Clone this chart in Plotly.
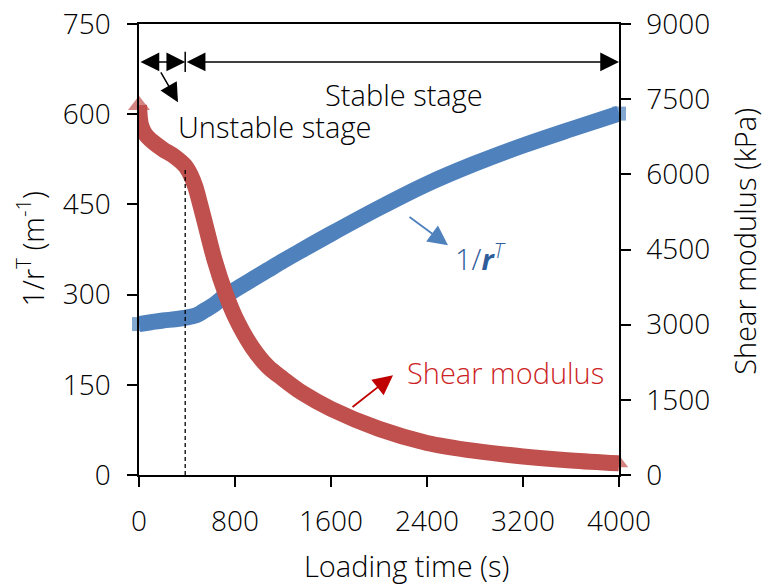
import plotly.graph_objects as go

# ---- data ----
time_inv_r = [0, 100, 200, 300, 400, 480, 550, 630, 700, 800, 950, 1075, 1200, 1358,
              1600, 2000, 2400, 2800, 3200, 3600, 4000]
inv_r = [251, 254, 257, 259, 262, 266, 274, 284, 295, 308, 326, 341, 356, 374,
         401, 444, 484, 518, 548, 575, 601]

time_shear = [0, 15, 40, 70, 120, 200, 300, 385, 430, 470, 510, 550, 630, 720, 800,
              940, 1075, 1200, 1360, 1600, 2000, 2400, 2800, 3200, 3600, 4000]
shear_modulus = [7380, 7000, 6850, 6750, 6640, 6500, 6350, 6170, 5990, 5750, 5400, 5030,
                 4290, 3630, 3160, 2560, 2160, 1920, 1640, 1320, 920, 640, 480,
                 370, 290, 233]

x_ticks = [0, 800, 1600, 2400, 3200, 4000]
y_ticks = [0, 150, 300, 450, 600, 750]
y2_ticks = [0, 1500, 3000, 4500, 6000, 7500, 9000]

stage_boundary = 385       # s, end of unstable stage
boundary_level = 507       # 1/r^T value where dashed line stops
arrow_level = 687          # level of the stage arrows (left-axis units)

FONT = "Open Sans"
BLUE = "#4f81bd"
RED = "#c0504d"
TXT = 29
TICK = 28

fig = go.Figure()

n_b = len(time_inv_r)
fig.add_trace(go.Scatter(
    x=time_inv_r, y=inv_r, mode="lines+markers",
    line=dict(color=BLUE, width=16, shape="spline", smoothing=1.0),
    marker=dict(symbol="square", color=BLUE, line=dict(width=0),
                size=[14] + [0] * (n_b - 2) + [14]),
    cliponaxis=False, hoverinfo="skip"))

n_s = len(time_shear)
fig.add_trace(go.Scatter(
    x=time_shear, y=shear_modulus, mode="lines+markers", yaxis="y2",
    line=dict(color=RED, width=16, shape="spline", smoothing=0.9),
    marker=dict(symbol="triangle-up", color=RED, line=dict(width=0),
                size=[19] + [0] * (n_s - 2) + [16]),
    cliponaxis=False, hoverinfo="skip"))

axis_common = dict(showline=True, linecolor="black", linewidth=1.5,
                   ticks="outside", ticklen=10, tickwidth=1.5, tickcolor="black",
                   showgrid=False, zeroline=False, automargin=False,
                   tickfont=dict(family=FONT, size=TICK, color="#000", weight=300))

fig.update_layout(
    width=763, height=586,
    margin=dict(l=139, r=144, t=24, b=111, autoexpand=False),
    plot_bgcolor="white", paper_bgcolor="white",
    showlegend=False,
    font=dict(family=FONT, color="#000"),
    xaxis=dict(range=[0, 4000], tickmode="array", tickvals=x_ticks, mirror=True,
               ticklabelstandoff=11, **axis_common),
    yaxis=dict(range=[0, 750], tickmode="array", tickvals=y_ticks,
               ticklabelstandoff=11, **axis_common),
    yaxis2=dict(range=[0, 9000], tickmode="array", tickvals=y2_ticks,
                overlaying="y", side="right", ticklabelstandoff=10, **axis_common),
)

# dashed boundary line and divider tick
fig.add_shape(type="line", x0=stage_boundary, x1=stage_boundary, y0=0, y1=boundary_level,
              xref="x", yref="y", line=dict(color="black", width=1.3, dash="4px,3px"))
fig.add_shape(type="line", x0=stage_boundary, x1=stage_boundary, y0=arrow_level - 17,
              y1=arrow_level + 17, xref="x", yref="y", line=dict(color="black", width=1.5))

def arrow(x0, y0, x1, y1, color="black", both=False, width=1.5, size=2.5):
    fig.add_annotation(x=x1, y=y1, ax=x0, ay=y0, xref="x", yref="y", axref="x", ayref="y",
                       text="", showarrow=True, arrowhead=2, arrowsize=size,
                       arrowwidth=width, arrowcolor=color,
                       arrowside="end+start" if both else "end",
                       startarrowhead=2, startarrowsize=size, standoff=0, startstandoff=0)

arrow(0, arrow_level, stage_boundary, arrow_level, both=True)
arrow(stage_boundary, arrow_level, 4000, arrow_level, both=True)
arrow(175, 672, 325, 620)
arrow(2242, 431, 2575, 382, color="#4f81bd", width=1.8, size=2.2)
arrow(1767, 111, 2117, 166, color="#c00000", width=1.8, size=2.2)

def label(x, y, text, color="#000", size=TXT):
    fig.add_annotation(x=x, y=y, xref="x", yref="y", text=text, showarrow=False,
                       font=dict(family=FONT, size=size, color=color, weight=300),
                       xanchor="center", yanchor="middle")

label(2208, 632, "Stable stage")
label(1133, 580, "Unstable stage")
label(2842, 362, "1/<b><i>r</i></b><sup><i>T</i></sup>", color="#2f5d9b")
label(3058, 171, "Shear modulus", color="#cc1f26")

# axis titles
title_font = dict(family=FONT, size=TXT, color="#000", weight=300)
fig.add_annotation(xref="paper", yref="paper", x=0, y=0.5, xshift=-109,
                   text="1/r<sup>T</sup> (m<sup>-1</sup>)", textangle=-90, showarrow=False,
                   xanchor="center", yanchor="middle", font=title_font)
fig.add_annotation(xref="paper", yref="paper", x=1, y=0.517, xshift=126,
                   text="Shear modulus (kPa)", textangle=-90, showarrow=False,
                   xanchor="center", yanchor="middle", font=title_font)
fig.add_annotation(xref="paper", yref="paper", x=0.558, y=0, yshift=-90,
                   text="Loading time (s)", showarrow=False,
                   xanchor="center", yanchor="middle", font=title_font)

fig.write_html("out.html", config={"displayModeBar": False},
               post_script="document.body.style.margin='0';")
